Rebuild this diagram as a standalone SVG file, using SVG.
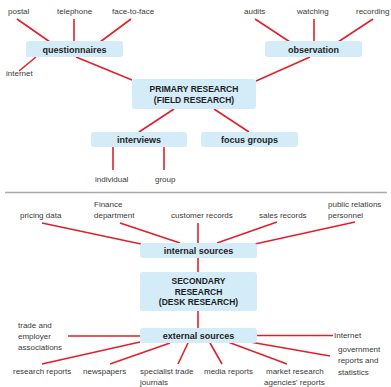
<svg xmlns="http://www.w3.org/2000/svg" width="391" height="387" viewBox="0 0 391 387">
<style>
.box{fill:#d4ebf8}
.bt{font-family:"Liberation Sans",Arial,sans-serif;font-size:9px;font-weight:bold;fill:#1e1e1e;text-anchor:middle}
.lb{font-family:"Liberation Sans",Arial,sans-serif;font-size:8px;fill:#3a3a3a}
#connectors line{stroke:#e0202a;stroke-width:1.6}
</style>
<rect width="391" height="387" fill="#fff"/>
<line x1="5" y1="192.5" x2="387" y2="192.5" stroke="#aaa" stroke-width="1.6"/>
<g id="connectors">
<line x1="17" y1="19" x2="50" y2="42"/>
<line x1="74" y1="19" x2="74" y2="42"/>
<line x1="131" y1="19" x2="100" y2="42"/>
<line x1="36" y1="57" x2="19" y2="71"/>
<line x1="76" y1="57" x2="132" y2="80"/>
<line x1="255" y1="19" x2="290" y2="42"/>
<line x1="314" y1="19" x2="314" y2="42"/>
<line x1="373" y1="19" x2="338" y2="42"/>
<line x1="310" y1="57" x2="256" y2="81"/>
<line x1="174" y1="109" x2="139" y2="132"/>
<line x1="214" y1="109" x2="249" y2="132"/>
<line x1="113" y1="147" x2="113" y2="170"/>
<line x1="164" y1="147" x2="164" y2="170"/>
<line x1="42" y1="223" x2="141" y2="244"/>
<line x1="120" y1="223" x2="180" y2="243"/>
<line x1="198" y1="223" x2="198" y2="273"/>
<line x1="277" y1="222" x2="217" y2="243"/>
<line x1="355" y1="222" x2="255" y2="244"/>
<line x1="198" y1="311" x2="198" y2="328"/>
<line x1="68" y1="336" x2="140" y2="336"/>
<line x1="42" y1="364" x2="140" y2="342"/>
<line x1="110" y1="364" x2="170" y2="343"/>
<line x1="178" y1="364" x2="188" y2="343"/>
<line x1="222" y1="364" x2="210" y2="343"/>
<line x1="287" y1="364" x2="228" y2="342"/>
<line x1="330" y1="356" x2="250" y2="342"/>
<line x1="257" y1="335.5" x2="333" y2="335.5"/>
</g>
<g id="questionnaires"><rect class="box" x="26" y="41" width="97" height="16" rx="3"/><text class="bt" x="74.5" y="52.5">questionnaires</text></g>
<g id="observation"><rect class="box" x="265" y="41" width="97" height="16" rx="3"/><text class="bt" x="313.5" y="52.5">observation</text></g>
<g id="primary"><rect class="box" x="132" y="79" width="124" height="30" rx="3"/><text class="bt" x="194" y="92" style="font-size:8.5px">PRIMARY RESEARCH</text><text class="bt" x="194" y="103" style="font-size:8.5px">(FIELD RESEARCH)</text></g>
<g id="interviews"><rect class="box" x="91" y="132" width="96" height="15" rx="3"/><text class="bt" x="139" y="143">interviews</text></g>
<g id="focus-groups"><rect class="box" x="201" y="132" width="97" height="15" rx="3"/><text class="bt" x="249.5" y="143">focus groups</text></g>
<g id="internal-sources"><rect class="box" x="140" y="243" width="117" height="15" rx="3"/><text class="bt" x="198.5" y="254">internal sources</text></g>
<g id="secondary"><rect class="box" x="140" y="272" width="117" height="39" rx="3"/><text class="bt" x="198.5" y="284" style="font-size:8.5px">SECONDARY</text><text class="bt" x="198.5" y="294.5" style="font-size:8.5px">RESEARCH</text><text class="bt" x="198.5" y="305" style="font-size:8.5px">(DESK RESEARCH)</text></g>
<g id="external-sources"><rect class="box" x="140" y="328" width="117" height="15" rx="3"/><text class="bt" x="198.5" y="339">external sources</text></g>
<g id="labels">
<text class="lb" x="8" y="14">postal</text>
<text class="lb" x="57" y="14">telephone</text>
<text class="lb" x="112" y="14">face-to-face</text>
<text class="lb" x="6" y="76">internet</text>
<text class="lb" x="244" y="14">audits</text>
<text class="lb" x="297" y="14">watching</text>
<text class="lb" x="356" y="14">recording</text>
<text class="lb" x="95" y="182">individual</text>
<text class="lb" x="155" y="182">group</text>
<text class="lb" x="20" y="218">pricing data</text>
<text class="lb" x="94" y="207">Finance</text>
<text class="lb" x="94" y="218">department</text>
<text class="lb" x="171" y="218">customer records</text>
<text class="lb" x="259" y="218">sales records</text>
<text class="lb" x="328" y="207">public relations</text>
<text class="lb" x="328" y="218">personnel</text>
<text class="lb" x="18" y="328">trade and</text>
<text class="lb" x="18" y="339">employer</text>
<text class="lb" x="18" y="350">associations</text>
<text class="lb" x="13" y="374">research reports</text>
<text class="lb" x="83" y="374">newspapers</text>
<text class="lb" x="140" y="374">specialist trade</text>
<text class="lb" x="140" y="385">journals</text>
<text class="lb" x="204" y="374">media reports</text>
<text class="lb" x="266" y="374">market research</text>
<text class="lb" x="264" y="385">agencies' reports</text>
<text class="lb" x="334" y="338">Internet</text>
<text class="lb" x="338" y="352">government</text>
<text class="lb" x="338" y="363">reports and</text>
<text class="lb" x="338" y="375">statistics</text>
</g>
</svg>
